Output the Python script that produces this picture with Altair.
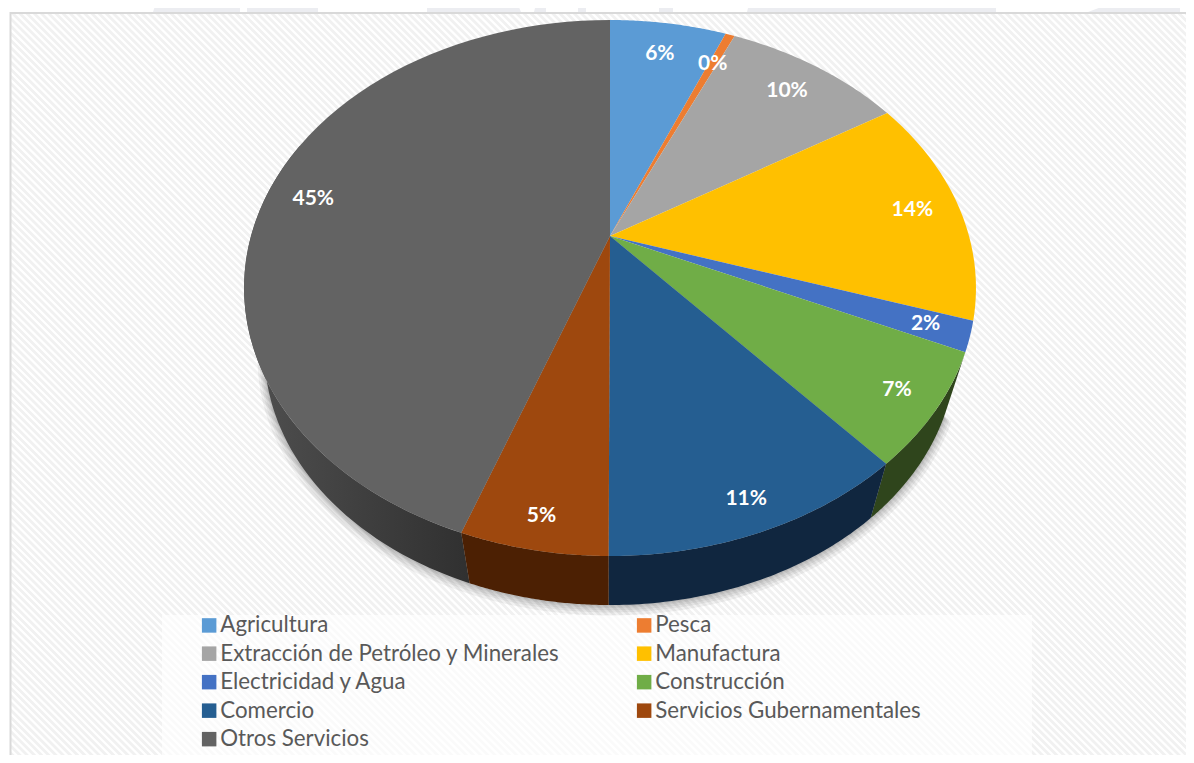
import numpy as np
import altair as alt

names = ["Agricultura", "Pesca", "Extracción de Petróleo y Minerales", "Manufactura",
         "Electricidad y Agua", "Construcción", "Comercio", "Servicios Gubernamentales",
         "Otros Servicios"]
shares = [6.2, 0.5, 9.5, 13.8, 1.8, 6.8, 11.45, 5.45, 44.5]
labels = ["6%", "0%", "10%", "14%", "2%", "7%", "11%", "5%", "45%"]
colors = ["#5b9bd5", "#ed7d31", "#a5a5a5", "#ffc000", "#4472c4", "#70ad47", "#255e91", "#9e480e", "#636363"]
wall_colors = {"Construcción": "#2f451c", "Comercio": "#10263f", "Servicios Gubernamentales": "#4c2003"}

# perspective pie model
CX, CY, A, B, K = 610.0, 236.0, 359.0, 257.9, 0.194
S, WY = 0.944, 303.0


def top(t, r=1.0):
    X, Y = r * np.sin(t), r * np.cos(t)
    d = 1 + K * Y
    return CX + A * X / d, CY - B * Y / d


def bottom(t):
    x, y = top(t)
    return CX + S * (x - CX), WY + S * (y - CY)


def feature(coords, name="", kind="Polygon"):
    return {"type": "Feature", "properties": {"name": name},
            "geometry": {"type": kind, "coordinates": coords}}


def poly(coords, name=""):
    pts = [[float(a), float(b)] for a, b in coords]
    pts.append(pts[0])
    return feature([pts], name)


def rect(x0, y0, x1, y1):
    return poly([(x0, y0), (x1, y0), (x1, y1), (x0, y1)])


cum = np.concatenate([[0], np.cumsum(shares)]) / sum(shares) * 2 * np.pi
slices, texts = [], []
for i, n in enumerate(names):
    ts = np.linspace(cum[i], cum[i + 1], 60)
    slices.append(poly([(CX, CY)] + [top(t) for t in ts], n))
    m = (cum[i] + cum[i + 1]) / 2
    r = 0.87 - 0.04 * np.cos(m)
    x, y = top(m, r)
    texts.append({"lon": float(x), "lat": float(y), "t": labels[i]})


def wall(t0, t1, name=""):
    ts = np.linspace(t0, t1, 60)
    return poly([top(t) for t in ts] + [bottom(t) for t in ts[::-1]], name)


i_c, i_s, i_g, i_o = 5, 6, 7, 8
front = [wall(cum[i_c], cum[i_c + 1], names[i_c]),
         wall(cum[i_s], cum[i_s + 1], names[i_s]),
         wall(cum[i_g], cum[i_g + 1], names[i_g])]
for f in front:
    f["properties"]["col"] = wall_colors[f["properties"]["name"]]
side = wall(cum[i_o], np.radians(292))

# soft shadow under the rim
ts_all = np.linspace(np.radians(115), np.radians(290), 120)
shadows = []
for grow in [7, 5, 3.5, 2, 1]:
    g = 1 + grow / 340
    outline = [(CX + (bottom(t)[0] - CX) * g, WY + (bottom(t)[1] - WY) * g + grow * 0.6) for t in ts_all]
    shadows.append(poly(outline + [(CX, CY)]))

# background stripes
stripes = []
for c in np.arange(-800, 1240, 7.2):
    stripes.append([[float(c), 0.0], [float(c + 800), 800.0]])

proj = dict(type="identity", scale=1, translate=[-8, -8])

bg = alt.Chart(alt.Data(values=[feature(stripes, "", "MultiLineString")])).mark_geoshape(
    filled=False, stroke="#f1f1f1", strokeWidth=2.8).project(**proj)

mask = alt.Chart(alt.Data(values=[rect(0, 0, 1200, 12), rect(0, 0, 10, 800)])).mark_geoshape(
    fill="white", strokeWidth=0).project(**proj)

marks_wm = alt.Chart(alt.Data(values=[
    poly([(128, 0), (143, 0), (141, 6)]),
    poly([(153, 12), (157, 0), (240, 0), (240, 12)]),
    rect(247, 0, 318, 12),
    rect(427, 0, 516, 12),
    poly([(516, 0), (521, 12), (516, 12)]),
    poly([(534, 12), (537, 0), (546, 0), (546, 12)]),
    rect(578, 0, 586, 12),
    rect(659, 0, 673, 12),
    poly([(747, 12), (750, 0), (1020, 0), (996, 8), (996, 12)]),
    poly([(1088, 12), (1120, 0), (1180, 0), (1180, 12)]),
])).mark_geoshape(fill="#ecedf1", strokeWidth=0).project(**proj)

border = alt.Chart(alt.Data(values=[
    feature([[[10.5, 800.0], [10.5, 13.0], [1200.0, 13.0]]], "", "MultiLineString")])).mark_geoshape(
    filled=False, stroke="#d9d9d9", strokeWidth=2).project(**proj)

panel = alt.Chart(alt.Data(values=[rect(162, 615, 1032, 800)])).mark_geoshape(
    fill="white", fillOpacity=0.65, strokeWidth=0).project(**proj)

shadow = alt.Chart(alt.Data(values=shadows)).mark_geoshape(
    fill="#000000", fillOpacity=0.055, strokeWidth=0).project(**proj)

side_wall = alt.Chart(alt.Data(values=[side])).mark_geoshape(
    fill=alt.Gradient(gradient="linear", x1=0, y1=0, x2=1, y2=0,
                      stops=[alt.GradientStop(offset=0, color="#505050"),
                             alt.GradientStop(offset=1, color="#303030")]),
    strokeWidth=0).project(**proj)

front_walls = alt.Chart(alt.Data(values=front)).mark_geoshape(strokeWidth=0).encode(
    fill=alt.Fill("properties.col:N", scale=None)).project(**proj)

pie = alt.Chart(alt.Data(values=slices)).mark_geoshape(strokeWidth=0).encode(
    fill=alt.Fill("properties.name:N",
                  scale=alt.Scale(domain=names, range=colors),
                  legend=alt.Legend(title=None, orient="none", legendX=190, legendY=606,
                                    columns=2, direction="horizontal", columnPadding=73, rowPadding=5.5,
                                    symbolType="square", symbolSize=210, symbolStrokeWidth=0,
                                    labelFont="Lato", labelFontSize=22.3, labelColor="#595959",
                                    labelOffset=0, labelLimit=500, padding=0, values=names))
).project(**proj)

text = alt.Chart(alt.Data(values=texts)).mark_text(
    font="Lato", fontSize=21, fontWeight="bold", color="white").encode(
    longitude="lon:Q", latitude="lat:Q", text="t:N").project(**proj)

chart = alt.layer(bg, mask, marks_wm, border, panel, shadow, side_wall, front_walls, pie, text).resolve_scale(
    fill="independent"
).properties(width=1178, height=747, padding=0, autosize=alt.AutoSizeParams(type="none")).configure_view(strokeWidth=0)

chart.save("out.html", embed_options={"renderer": "svg", "actions": False})
